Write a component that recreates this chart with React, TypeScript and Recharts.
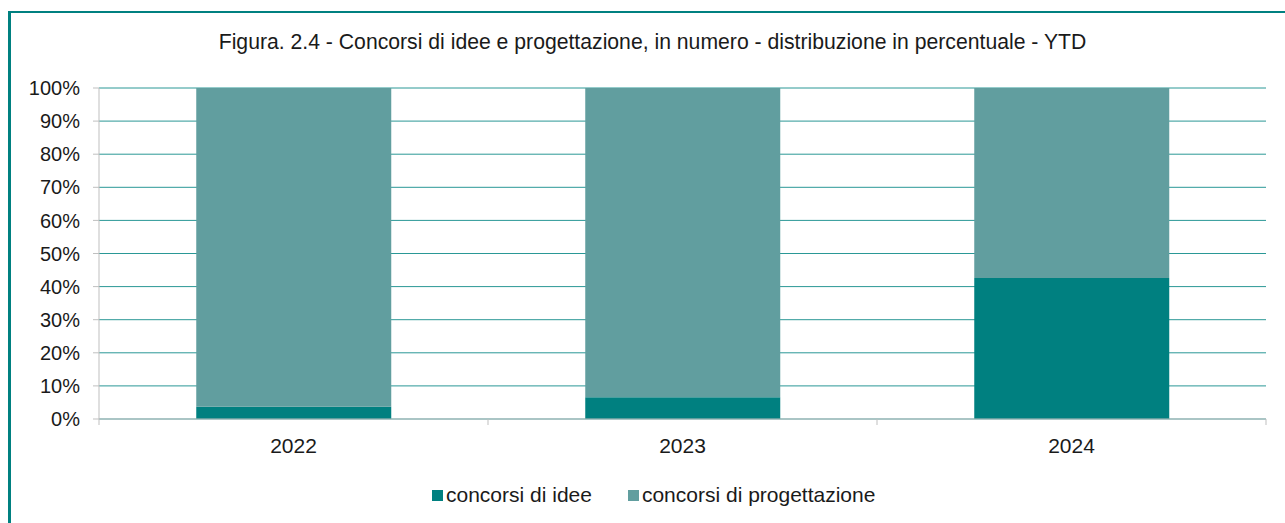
import React from 'react';
import { BarChart, Bar, XAxis, YAxis, CartesianGrid, Legend } from 'recharts';

// anni e quote (%)
const years = ['2022', '2023', '2024'];
const idee = [3.7, 6.6, 42.6];
const progettazione = [96.3, 93.4, 57.4];
const yTicks = [0, 10, 20, 30, 40, 50, 60, 70, 80, 90, 100];

const title = 'Figura. 2.4 - Concorsi di idee e progettazione, in numero - distribuzione in percentuale - YTD';

const DARK = '#008080';
const LIGHT = '#619e9f';
const AXIS = '#bfbfbf';
const FONT = '"Liberation Sans", Arial, sans-serif';

const W = 1285;
const H = 523;
const PLOT_LEFT = 99;
const PLOT_RIGHT = 19;
const LEGEND_H = 24;

const data = years.map((year, i) => ({
  year,
  idee: idee[i],
  progettazione: progettazione[i],
}));

// x tick: label in the middle, small marks at the category edges
const YearTick = (props: any) => {
  const { x, y, payload, index } = props;
  const half = (W - PLOT_LEFT - PLOT_RIGHT) / years.length / 2;
  const top = y - 19;
  return (
    <g>
      <line x1={x - half} x2={x - half} y1={top} y2={top + 6} stroke={AXIS} />
      {index === years.length - 1 && (
        <line x1={x + half} x2={x + half} y1={top} y2={top + 6} stroke={AXIS} />
      )}
      <text x={x} y={y} dy="0.71em" textAnchor="middle" fill="#1a1a1a" fontSize={21} fontFamily={FONT}>
        {payload.value}
      </text>
    </g>
  );
};

const renderLegend = (props: any) => {
  const { payload } = props;
  return (
    <div style={{ display: 'flex', alignItems: 'center', height: LEGEND_H, fontFamily: FONT, fontSize: 21, color: '#1a1a1a' }}>
      {payload.map((entry: any, i: number) => (
        <div key={i} style={{ display: 'flex', alignItems: 'center', marginRight: 36 }}>
          <span style={{ width: 11, height: 11, background: entry.color, marginRight: 3, display: 'inline-block' }} />
          <span>{entry.value}</span>
        </div>
      ))}
    </div>
  );
};

export default function App() {
  return (
    <div style={{ position: 'absolute', left: 0, top: 0, width: W, height: H, background: '#fff', overflow: 'hidden' }}>
      <div
        style={{
          position: 'absolute',
          left: 8,
          top: 11,
          width: W - 8,
          height: H - 11,
          borderLeft: `3px solid ${DARK}`,
          borderTop: `2px solid ${DARK}`,
          boxSizing: 'border-box',
        }}
      />
      <div
        style={{
          position: 'absolute',
          left: 20,
          top: 30,
          width: 1265,
          textAlign: 'center',
          fontFamily: FONT,
          fontSize: 21.2,
          color: '#1a1a1a',
          whiteSpace: 'nowrap',
        }}
      >
        {title}
      </div>
      <div style={{ position: 'absolute', left: 0, top: 0 }}>
        <BarChart
          width={W}
          height={H}
          data={data}
          margin={{ top: 88, right: PLOT_RIGHT, left: 0, bottom: 64 - LEGEND_H }}
          barCategoryGap="25%"
        >
          <CartesianGrid vertical={false} stroke="#2a9896" />
          <XAxis
            dataKey="year"
            height={40}
            stroke={AXIS}
            tickLine={false}
            tickSize={0}
            tickMargin={19}
            tick={<YearTick />}
          />
          <YAxis
            width={PLOT_LEFT}
            domain={[0, 100]}
            ticks={yTicks}
            tickFormatter={(v: number) => `${v}%`}
            stroke={AXIS}
            tickSize={6}
            tickMargin={13}
            tick={{ fill: '#1a1a1a', fontSize: 20, fontFamily: FONT }}
          />
          <YAxis
            yAxisId="right"
            orientation="right"
            width={0}
            domain={[0, 100]}
            stroke={AXIS}
            tick={false}
            tickLine={false}
          />
          <Legend
            layout="horizontal"
            verticalAlign="bottom"
            align="left"
            content={renderLegend}
            wrapperStyle={{ top: 483, left: 432, bottom: 'auto', width: 'auto' }}
          />
          <Bar dataKey="idee" name="concorsi di idee" stackId="a" fill={DARK} isAnimationActive={false} />
          <Bar
            dataKey="progettazione"
            name="concorsi di progettazione"
            stackId="a"
            fill={LIGHT}
            isAnimationActive={false}
          />
        </BarChart>
      </div>
    </div>
  );
}
